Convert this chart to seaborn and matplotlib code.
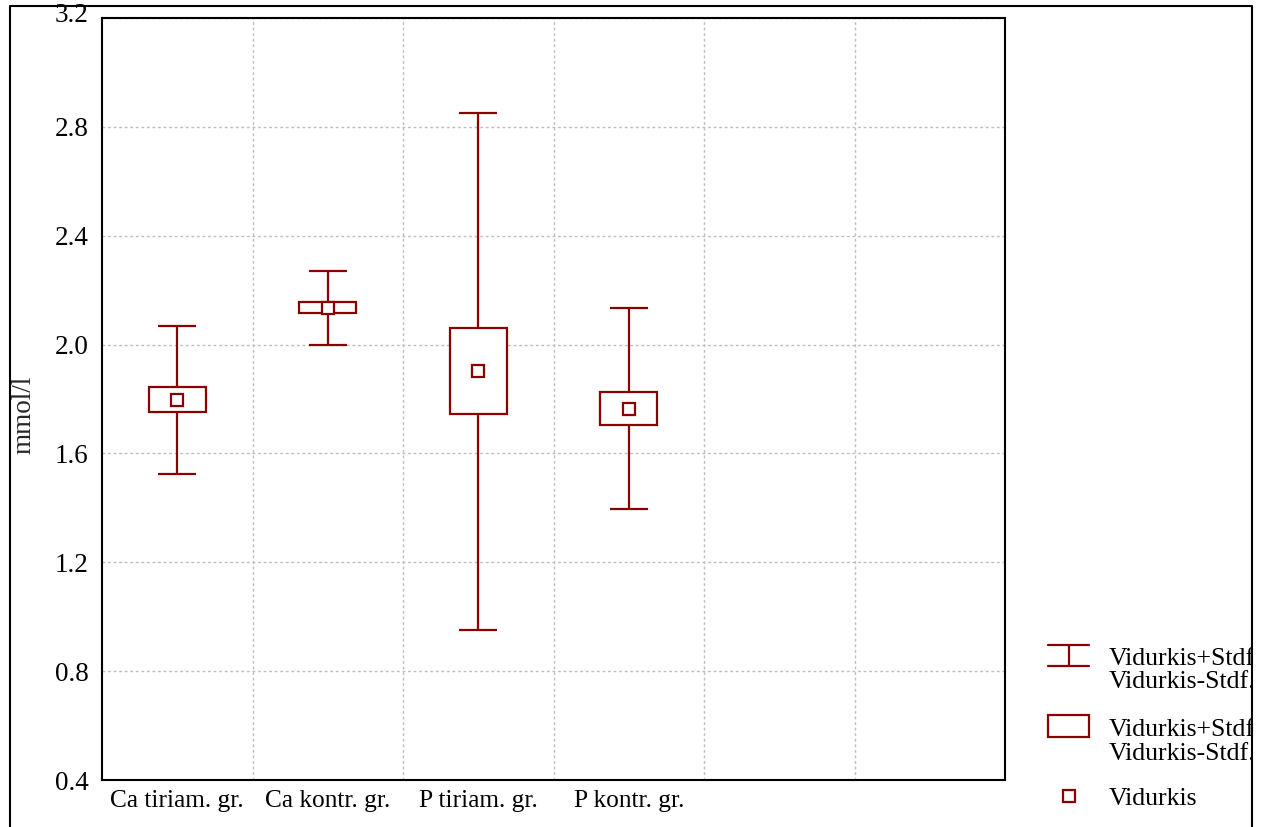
import numpy as np
import pandas as pd
import matplotlib
matplotlib.use("Agg")
import matplotlib.pyplot as plt
import matplotlib.transforms as mtransforms
import seaborn as sns
from matplotlib.lines import Line2D
from matplotlib.patches import Rectangle

# ---- data ----
categories = ["Ca tiriam. gr.", "Ca kontr. gr.", "P tiriam. gr.", "P kontr. gr."]
means = [1.797, 2.135, 1.902, 1.765]
sd = [0.272, 0.136, 0.950, 0.370]
se = [0.046, 0.020, 0.158, 0.062]
n_slots = 6
yticks = [0.4, 0.8, 1.2, 1.6, 2.0, 2.4, 2.8, 3.2]
ylabel = "mmol/l"
legend_lines = [["Vidurkis+Stdf", "Vidurkis-Stdf."],
                ["Vidurkis+Stdf.", "Vidurkis-Stdf."],
                ["Vidurkis"]]

RED = "#8B0000"
W, H = 1267, 827
FS_X = 18.3
FS_Y = 19.5
FS_L = 18.5

sns.set_theme(style="white")
plt.rcParams['font.family'] = ['Liberation Serif', 'DejaVu Serif']
plt.rcParams['font.size'] = FS_X

fig = plt.figure(figsize=(W / 100, H / 100), dpi=100)
ax = fig.add_axes([102 / W, 1 - 780 / H, (1005 - 102) / W, (780 - 18) / H])

df = pd.DataFrame({"grupe": categories, "vidurkis": means, "sd": sd, "se": se})

sns.pointplot(data=df, x="grupe", y="vidurkis", order=categories, errorbar=None,
              color=RED, marker="s", linestyle="none", markersize=8.5,
              markerfacecolor="white", markeredgecolor=RED, markeredgewidth=1.6,
              zorder=5, ax=ax)

x = np.arange(len(categories))
ax.errorbar(x, df["vidurkis"], yerr=df["sd"], fmt="none", ecolor=RED,
            elinewidth=1.6, capsize=13.7, capthick=1.6, zorder=2)
ax.bar(x, 2 * df["se"], bottom=df["vidurkis"] - df["se"], width=0.38,
       color="white", edgecolor=RED, linewidth=1.6, zorder=3)

ax.set_xlim(-0.5, n_slots - 0.5)
ax.set_ylim(yticks[0], yticks[-1])
ax.set_xticks(x)
ax.set_xticklabels(categories, fontsize=FS_X)
ax.set_xticks(np.arange(0.5, n_slots - 0.5, 1.0), minor=True)
ax.set_yticks(yticks)
ax.set_yticklabels([f"{v:.1f}" for v in yticks], fontsize=FS_Y)
ax.set_xlabel("")
ax.set_ylabel("")

ax.tick_params(axis="x", which="major", length=0, pad=7, colors="black")
ax.tick_params(axis="x", which="minor", length=6, direction="in", width=1, color="black")
ax.tick_params(axis="y", which="major", length=6, direction="in", width=1, pad=9.5, colors="black")
ax.grid(False)
ax.grid(True, axis="y", which="major", color="#bdbdbd", linestyle=(0, (2, 2)), linewidth=1)
ax.grid(True, axis="x", which="minor", color="#bdbdbd", linestyle=(0, (2, 2)), linewidth=1)
for s in ax.spines.values():
    s.set_color("black")
    s.set_linewidth(1.5)
    s.set_visible(True)

# nudge the top tick label upward, as in the reference
top_lab = ax.get_yticklabels()[-1]
top_lab.set_transform(top_lab.get_transform() +
                      mtransforms.ScaledTranslation(0, 5 / 100, fig.dpi_scale_trans))

# ---- helpers for figure pixel space ----
def fx(px):
    return px / W

def fy(py):
    return 1 - py / H

tf = fig.transFigure

# y label
fig.text(fx(24), fy(415), ylabel, rotation=90, ha="center", va="center", fontsize=FS_Y)

# ---- legend ----
lw = 1.6
fig.add_artist(Line2D([fx(1048), fx(1089)], [fy(645), fy(645)], color=RED, lw=lw, transform=tf))
fig.add_artist(Line2D([fx(1048), fx(1089)], [fy(666), fy(666)], color=RED, lw=lw, transform=tf))
fig.add_artist(Line2D([fx(1069), fx(1069)], [fy(645), fy(666)], color=RED, lw=lw, transform=tf))
fig.add_artist(Rectangle((fx(1048), fy(737)), fx(1089) - fx(1048), fy(715) - fy(737),
                         facecolor="white", edgecolor=RED, lw=lw, transform=tf))
fig.add_artist(Line2D([fx(1068.5)], [fy(795.5)], marker="s", markersize=8.5, markerfacecolor="white",
                      markeredgecolor=RED, markeredgewidth=lw, linestyle="none", transform=tf))
baselines = [[665, 688], [736, 760], [805]]
for lines, bls in zip(legend_lines, baselines):
    for txt, bl in zip(lines, bls):
        fig.text(fx(1109), fy(bl), txt, ha="left", va="baseline", fontsize=FS_L, color="black")

# mask right of the frame and the outer frame
fig.add_artist(Rectangle((fx(1253), 0), 1 - fx(1253), 1, facecolor="white",
                         edgecolor="none", transform=tf, zorder=10))
fig.add_artist(Line2D([fx(10), fx(10), fx(1252), fx(1252)], [-0.01, fy(6), fy(6), -0.01],
                      color="black", lw=1.5, transform=tf, zorder=11))

fig.savefig("out.png", dpi=100, facecolor="white")
